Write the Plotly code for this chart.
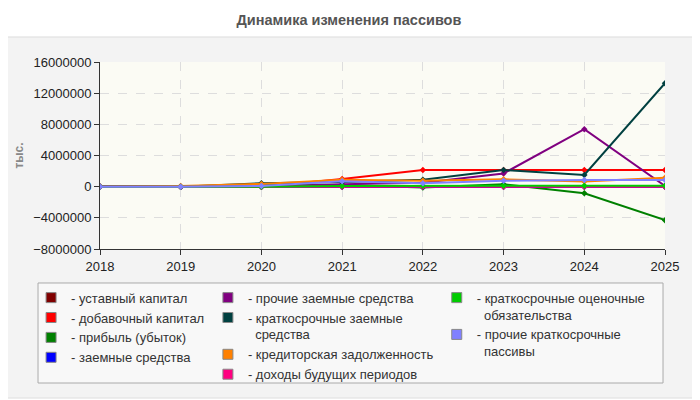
import plotly.graph_objects as go

# годы
years = [2018, 2019, 2020, 2021, 2022, 2023, 2024, 2025]

# значения, тыс.
ustavnyi = [0, 0, 0, 0, 0, 0, 0, 0]
dobavochnyi = [0, 0, 0, 1000000, 2140000, 2140000, 2140000, 2140000]
pribyl = [0, 0, 200000, 200000, -100000, 300000, -850000, -4300000]
zaemnye = [0, 0, 0, 0, 0, 0, 0, 0]
prochie_zaemnye = [0, 0, 0, 300000, 500000, 1700000, 7370000, 100000]
kratk_zaemnye = [0, 0, 450000, 600000, 900000, 2140000, 1500000, 13270000]
kreditorskaya = [0, 100000, 350000, 900000, 770000, 950000, 650000, 1150000]
dohody = [0, 0, 0, 0, 0, 0, 0, 0]
ocenochnye = [0, 0, 0, 100000, 130000, 130000, 130000, 130000]
prochie_kratk = [0, 0, 100000, 700000, 430000, 750000, 860000, 860000]

names = [
    'уставный капитал', 'добавочный капитал', 'прибыль (убыток)', 'заемные средства',
    'прочие заемные средства', 'краткосрочные заемные<br>\u00a0\u00a0средства',
    'кредиторская задолженность', 'доходы будущих периодов',
    'краткосрочные оценочные<br>\u00a0\u00a0обязательства',
    'прочие краткосрочные<br>\u00a0\u00a0пассивы',
]
series = [ustavnyi, dobavochnyi, pribyl, zaemnye, prochie_zaemnye, kratk_zaemnye,
          kreditorskaya, dohody, ocenochnye, prochie_kratk]
colors = ['#800000', '#ff0000', '#008000', '#0000ff', '#800080', '#004040',
          '#ff8000', '#ff0080', '#00cc00', '#8080ff']
legend_of = ['legend', 'legend', 'legend', 'legend',
             'legend2', 'legend2', 'legend2', 'legend2',
             'legend3', 'legend3']

fig = go.Figure()

# линии (без легенды)
for vals, col in zip(series, colors):
    fig.add_trace(go.Scatter(
        x=years, y=vals, mode='lines+markers',
        line=dict(color=col, width=2),
        marker=dict(symbol='diamond', size=5, color=col),
        showlegend=False, hoverinfo='skip'))

# элементы легенды
for nm, col, lg in zip(names, colors, legend_of):
    fig.add_trace(go.Scatter(
        x=[None], y=[None], mode='markers', name='- ' + nm,
        marker=dict(symbol='square', size=10, color=col,
                    line=dict(color='#888', width=1)),
        legend=lg))

leg_common = dict(font=dict(family='Liberation Sans, Arial', size=13, color='#333'),
                  bgcolor='rgba(0,0,0,0)', yanchor='top', y=-0.18,
                  xanchor='left', valign='top', itemwidth=30)

fig.update_layout(
    width=700, height=400,
    margin=dict(l=92, r=43, t=54, b=159),
    paper_bgcolor='white',
    plot_bgcolor='rgba(0,0,0,0)',
    font=dict(family='Liberation Sans, Arial', size=12, color='#222'),
    title=dict(text='<b>Динамика изменения пассивов</b>', x=0.487, xref='container',
               xanchor='center', y=0.97, yanchor='middle',
               font=dict(size=14.5, color='#555')),
    legend=dict(x=-0.122, **leg_common),
    legend2=dict(x=0.191, **leg_common),
    legend3=dict(x=0.596, **leg_common),
    shapes=[
        # подложка графика
        dict(type='rect', xref='paper', yref='paper', x0=-0.1735, x1=1.0566,
             y0=-0.797, y1=1.1337, fillcolor='#f3f3f3',
             line=dict(color='#dddddd', width=1), layer='below'),
        # область построения
        dict(type='rect', xref='paper', yref='paper', x0=0, x1=1, y0=0, y1=1,
             fillcolor='#fbfbf4', line=dict(width=0), layer='below'),
        # рамка легенды
        dict(type='rect', xref='paper', yref='paper', x0=-0.1097, x1=0.9965,
             y0=-0.7166, y1=-0.1818, fillcolor='#f8f8f8',
             line=dict(color='#aaaaaa', width=1), layer='below'),
    ],
)

fig.update_xaxes(range=[2018, 2025], dtick=1, tickformat='d',
                 showline=True, linecolor='#333', linewidth=1,
                 ticks='outside', ticklen=5, tickcolor='#333',
                 showgrid=True, gridcolor='#dddddd', griddash='dash',
                 zeroline=False, tickfont=dict(size=13, color='#222'),
                 automargin=False)
fig.update_yaxes(range=[-8000000, 16000000], dtick=4000000, tickformat='d',
                 showline=True, linecolor='#333', linewidth=1,
                 ticks='outside', ticklen=5, tickcolor='#333',
                 showgrid=True, gridcolor='#dddddd', griddash='dash',
                 zeroline=False, tickfont=dict(size=13, color='#222'),
                 automargin=False,
                 title=dict(text='<b>тыс.</b>', standoff=6,
                            font=dict(size=12, color='#888')))

fig.write_html('out.html')
